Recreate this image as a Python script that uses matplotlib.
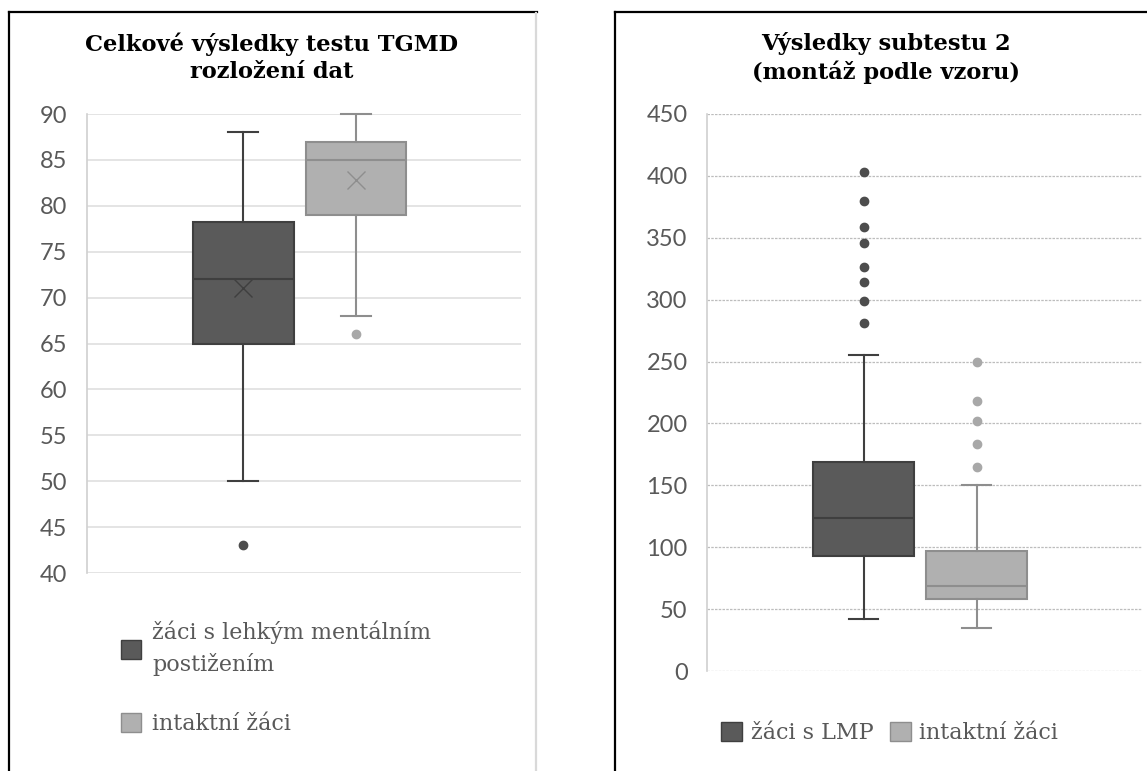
"""
Box plots of TGMD results and subtest 2 results (two panels).
"""

import matplotlib
matplotlib.use('Agg')
import matplotlib.pyplot as plt
from matplotlib.lines import Line2D
from matplotlib.patches import Patch

# Data: left panel (Celkové výsledky testu TGMD)
tgmd_labels = ['žáci s lehkým mentálním\npostižením', 'intaktní žáci']
tgmd_whislo = [50, 68]
tgmd_q1 = [65, 79]
tgmd_med = [72, 85]
tgmd_q3 = [78.2, 87]
tgmd_whishi = [88, 90]
tgmd_mean = [71, 82.8]
tgmd_fliers = [[43], [66]]
tgmd_ticks = [40, 45, 50, 55, 60, 65, 70, 75, 80, 85, 90]

# Data: right panel (Výsledky subtestu 2)
sub2_labels = ['žáci s LMP', 'intaktní žáci']
sub2_whislo = [42, 35]
sub2_q1 = [93, 58]
sub2_med = [124, 69]
sub2_q3 = [169, 97]
sub2_whishi = [255, 150]
sub2_fliers = [[403, 380, 359, 346, 326, 314, 299, 281],
                [250, 218, 202, 183, 165]]
sub2_ticks = [0, 50, 100, 150, 200, 250, 300, 350, 400, 450]

# Styles
fill_colors = ['#5a5a5a', '#b0b0b0']
edge_colors = ['#3f3f3f', '#8e8e8e']
flier_colors = ['#4d4d4d', '#a8a8a8']
tick_color = '#595959'
title_font = 'DejaVu Serif'
legend_font = 'DejaVu Serif'
tick_font = 'Lato'

W, H = 1147, 771
fig = plt.figure(figsize=(W / 100, H / 100), dpi=100)

positions = [0.36, 0.62]
box_width = 0.232


def make_stats(whislo, q1, med, q3, whishi, fliers, mean=None):
    stats = []
    for i in range(len(med)):
        s = dict(whislo=whislo[i], q1=q1[i], med=med[i], q3=q3[i],
                 whishi=whishi[i], fliers=fliers[i])
        if mean is not None:
            s['mean'] = mean[i]
        stats.append(s)
    return stats


def draw_boxes(ax, stats, show_means):
    for i, s in enumerate(stats):
        parts = ax.bxp([s], positions=[positions[i]], widths=box_width,
                       patch_artist=True, showmeans=show_means,
                       capwidths=0.068,
                       boxprops=dict(facecolor=fill_colors[i], edgecolor=edge_colors[i], linewidth=1.5),
                       medianprops=dict(color=edge_colors[i], linewidth=1.5),
                       whiskerprops=dict(color=edge_colors[i], linewidth=1.5),
                       capprops=dict(color=edge_colors[i], linewidth=1.5),
                       meanprops=dict(marker='x', markeredgecolor=edge_colors[i],
                                      markersize=13, markeredgewidth=1.0),
                       flierprops=dict(marker='o', markerfacecolor=flier_colors[i],
                                       markeredgecolor=flier_colors[i], markersize=6))
        for cap in parts['caps']:
            cap.set_clip_on(False)


def style_axes(ax, ticks, grid_style):
    ax.set_xlim(0, 1)
    ax.set_ylim(ticks[0], ticks[-1])
    ax.set_yticks(ticks)
    ax.set_xticks([])
    for sp in ['top', 'right', 'bottom']:
        ax.spines[sp].set_visible(False)
    ax.spines['left'].set_color('#d0d0d0')
    ax.spines['left'].set_linewidth(1.2)
    if grid_style == 'dashed':
        ax.spines['left'].set_linestyle((0, (2, 1)))
        ax.grid(axis='y', color='#bdbdbd', linewidth=0.9, linestyle=(0, (2, 1)))
    else:
        ax.grid(axis='y', color='#e4e4e4', linewidth=1.4)
    ax.set_axisbelow(True)
    ax.tick_params(axis='y', length=0, pad=14, labelsize=17, labelcolor=tick_color)
    for lab in ax.get_yticklabels():
        lab.set_fontfamily(tick_font)


# Left panel
ax1 = fig.add_axes([87 / W, 1 - 573 / H, 434 / W, 459 / H])
draw_boxes(ax1, make_stats(tgmd_whislo, tgmd_q1, tgmd_med, tgmd_q3,
                           tgmd_whishi, tgmd_fliers, tgmd_mean), True)
style_axes(ax1, tgmd_ticks, 'solid')
fig.text(272 / W, 1 - 58 / H, 'Celkové výsledky testu TGMD\nrozložení dat',
         ha='center', va='center', fontsize=16.2, fontweight='bold',
         family=title_font, linespacing=1.3)

handles1 = [Patch(facecolor=fill_colors[i], edgecolor=edge_colors[i]) for i in range(2)]
leg1 = fig.legend(handles1, tgmd_labels, loc='upper left',
                  bbox_to_anchor=(121 / W, 1 - 621 / H), frameon=False,
                  prop=dict(family=legend_font, size=16), borderpad=0, borderaxespad=0,
                  handlelength=0.9, handleheight=0.95, handletextpad=0.5,
                  labelspacing=1.68, labelcolor=tick_color)
for t in leg1.get_texts():
    t.set_linespacing(1.45)

# Right panel
ax2 = fig.add_axes([707 / W, 1 - 671 / H, 435 / W, 557 / H])
draw_boxes(ax2, make_stats(sub2_whislo, sub2_q1, sub2_med, sub2_q3,
                           sub2_whishi, sub2_fliers), False)
style_axes(ax2, sub2_ticks, 'dashed')
fig.text(886 / W, 1 - 58 / H, 'Výsledky subtestu 2\n(montáž podle vzoru)',
         ha='center', va='center', fontsize=16.2, fontweight='bold',
         family=title_font, linespacing=1.3)

handles2 = [Patch(facecolor=fill_colors[i], edgecolor=edge_colors[i]) for i in range(2)]
leg2 = fig.legend(handles2, sub2_labels, loc='center left', ncol=2,
                  bbox_to_anchor=(721 / W, 1 - 733 / H), frameon=False,
                  prop=dict(family=legend_font, size=16), borderpad=0, borderaxespad=0,
                  handlelength=0.95, handleheight=0.95, handletextpad=0.38,
                  columnspacing=0.75, labelcolor=tick_color)

# Panel borders
fig.add_artist(Line2D([9 / W, 9 / W], [0, 1 - 12 / H], color='black', linewidth=1.6))
fig.add_artist(Line2D([9 / W, 537 / W], [1 - 12 / H, 1 - 12 / H], color='black', linewidth=1.6))
fig.add_artist(Line2D([536 / W, 536 / W], [0, 1 - 13 / H], color='#d9d9d9', linewidth=1.6))
fig.add_artist(Line2D([615 / W, 615 / W], [0, 1 - 12 / H], color='black', linewidth=1.6))
fig.add_artist(Line2D([615 / W, 1], [1 - 12 / H, 1 - 12 / H], color='black', linewidth=1.6))

fig.savefig('out.png', dpi=100)
plt.close(fig)
